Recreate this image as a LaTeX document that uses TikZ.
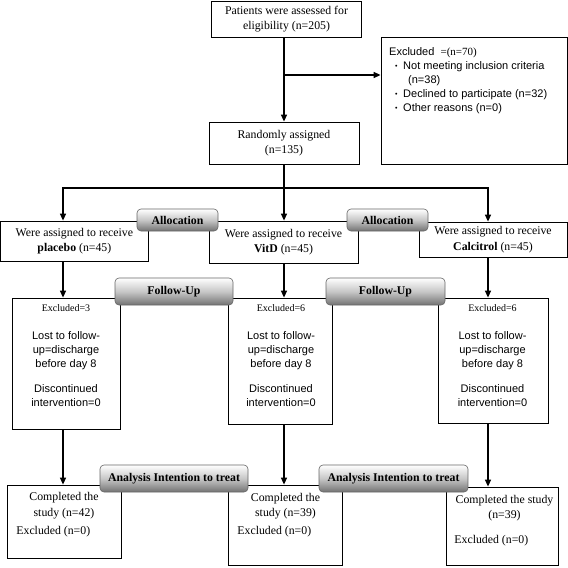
\documentclass[tikz,border=0pt]{standalone}
\usepackage{fontspec}
\setmainfont{Liberation Serif}
\setsansfont{Liberation Sans}
\usetikzlibrary{arrows.meta}
\tikzset{
  BoxStyle/.style = { rectangle, draw, line width = 0.8pt, inner sep = 0pt,
                      align = center, font = \fontsize{11.8}{15.5}\selectfont },
  StageStyle/.style = { rectangle, rounded corners = 4pt, draw = black!60,
                        line width = 0.6pt, inner sep = 0pt,
                        top color = white, bottom color = black!55, middle color = black!22,
                        font = \bfseries\fontsize{11.8}{14}\selectfont },
  NoteStyle/.style = { inner sep = 0pt, font = \sffamily\fontsize{11}{14.2}\selectfont },
  FlowStyle/.style = { -{Triangle[width=6pt,length=7pt]}, line width = 1.3pt } }
\newcommand{\bul}{\hspace*{6pt}\makebox[8pt][l]{\raisebox{1pt}{\scriptsize\textbullet}}}
\newcommand{\lost}[1]{{\rmfamily\fontsize{10}{12}\selectfont Excluded=#1}\\[13pt]
  Lost to follow-\\ up=discharge\\ before day 8\\[11pt] Discontinued\\ intervention=0}

\begin{document}
\begin{tikzpicture}[x=1pt,y=-1pt]
  \useasboundingbox (0,0) rectangle (568,568);

  % screening
  \node[BoxStyle, minimum width=150pt, minimum height=36pt] (asses) at (286.5,19)
       {Patients were assessed for\\ eligibility (n=205)};
  \node[BoxStyle, minimum width=150pt, minimum height=42pt] (rand) at (284,143)
       {Randomly assigned\\ (n=135)};
  \node[BoxStyle, minimum width=186pt, minimum height=127pt] (excl) at (474,100.5) {};
  \node[NoteStyle, anchor=west, align=left] (excltext) at (389,80.7)
       {Excluded~ {\rmfamily =(n=70)}\\ \bul Not meeting inclusion criteria\\
        \hspace*{19pt}(n=38)\\ \bul Declined to participate (n=32)\\ \bul Other reasons (n=0)};

  % allocation
  \node[BoxStyle, minimum width=148pt, minimum height=40pt] (placebo) at (74.4,241)
       {Were assigned to receive\\ \textbf{placebo} (n=45)};
  \node[BoxStyle, minimum width=149pt, minimum height=42pt] (vitd) at (283.5,242)
       {Were assigned to receive\\ \textbf{VitD} (n=45)};
  \node[BoxStyle, minimum width=148pt, minimum height=35pt] (calci) at (493,239.5)
       {Were assigned to receive\\ \textbf{Calcitrol} (n=45)};

  % follow-up
  \node[BoxStyle, minimum width=108pt, minimum height=131pt] (fu1) at (66,363.5) {};
  \node[BoxStyle, minimum width=104pt, minimum height=126pt] (fu2) at (280,361) {};
  \node[BoxStyle, minimum width=110pt, minimum height=125pt] (fu3) at (493,360.5) {};
  \node[NoteStyle, align=center] (fu1text) at (66,356) {\lost{3}};
  \node[NoteStyle, align=center] (fu2text) at (281,356) {\lost{6}};
  \node[NoteStyle, align=center] (fu3text) at (492.5,356) {\lost{6}};

  % analysis
  \node[BoxStyle, minimum width=114pt, minimum height=73pt] (ct1) at (64,521.5) {};
  \node[BoxStyle, minimum width=114pt, minimum height=80pt] (ct2) at (285,525) {};
  \node[BoxStyle, minimum width=112pt, minimum height=78pt] (ct3) at (502,526) {};
  \node[BoxStyle, draw=none] (ct1text) at (64,505.5) {Completed the\\ study (n=42)};
  \node[BoxStyle, draw=none] (ct2text) at (285.5,506) {Completed the\\ study (n=39)};
  \node[BoxStyle, draw=none] (ct3text) at (504.5,508) {Completed the study\\ (n=39)};
  \node[BoxStyle, draw=none, anchor=west] (ct1ex) at (16,532) {Excluded (n=0)};
  \node[BoxStyle, draw=none, anchor=west] (ct2ex) at (237,532) {Excluded (n=0)};
  \node[BoxStyle, draw=none, anchor=west] (ct3ex) at (454,541) {Excluded (n=0)};

  % connectors
  \coordinate (branch) at (284,75);
  \coordinate (c1) at (63,188);
  \coordinate (c2) at (284,188);
  \coordinate (c3) at (488,188);
  \draw[FlowStyle] (asses.south -| rand.north) -- (rand.north);
  \draw[FlowStyle] (branch) -- (branch -| excl.west);
  \draw[FlowStyle] (rand.south) -- (c2 |- vitd.north);
  \draw[FlowStyle] (c2) -| (c1 |- placebo.north);
  \draw[FlowStyle] (c2) -| (c3 |- calci.north);
  \draw[FlowStyle] (c1 |- placebo.south) -- (c1 |- fu1.north);
  \draw[FlowStyle] (c2 |- vitd.south) -- (c2 |- fu2.north);
  \draw[FlowStyle] (c3 |- calci.south) -- (c3 |- fu3.north);
  \draw[FlowStyle] (c1 |- fu1.south) -- (c1 |- ct1.north);
  \draw[FlowStyle] (c2 |- fu2.south) -- (c2 |- ct2.north);
  \draw[FlowStyle] (c3 |- fu3.south) -- (c3 |- ct3.north);

  % stage labels
  \node[StageStyle, minimum width=81pt, minimum height=22pt] (alloc1) at (177.5,220) {Allocation};
  \node[StageStyle, minimum width=81pt, minimum height=22pt] (alloc2) at (387.5,220) {Allocation};
  \node[StageStyle, minimum width=118pt, minimum height=27pt] (fol1) at (174,291.5) {Follow-Up};
  \node[StageStyle, minimum width=119pt, minimum height=27pt] (fol2) at (385.5,291.5) {Follow-Up};
  \node[StageStyle, minimum width=148pt, minimum height=27pt] (ana1) at (174,478.5) {Analysis Intention to treat};
  \node[StageStyle, minimum width=149pt, minimum height=27pt] (ana2) at (393.5,478.5) {Analysis Intention to treat};
\end{tikzpicture}
\end{document}
